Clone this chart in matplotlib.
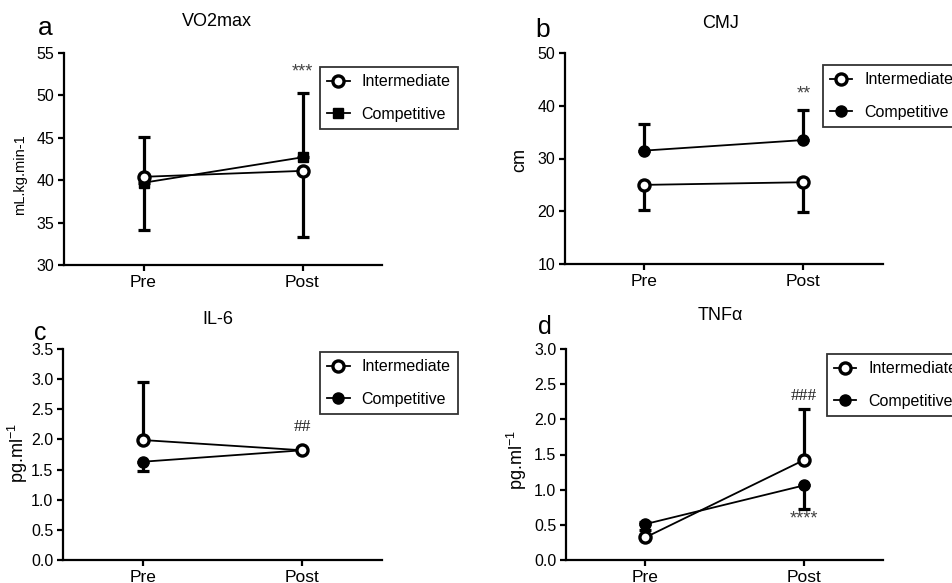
import matplotlib
matplotlib.use("Agg")
import matplotlib.pyplot as plt

plt.rcParams['font.family'] = ['Liberation Sans', 'DejaVu Sans']
plt.rcParams['mathtext.fontset'] = 'custom'
plt.rcParams['mathtext.rm'] = 'Liberation Sans'
plt.rcParams['mathtext.it'] = 'Liberation Sans:italic'

phases = ["Pre", "Post"]
group_names = ["Intermediate", "Competitive"]

# VO2max, mL.kg.min-1
vo2_inter = [40.4, 41.1]
vo2_inter_down = [6.3, 7.8]
vo2_inter_up = [0, 0]
vo2_comp = [39.7, 42.7]
vo2_comp_down = [0, 0]
vo2_comp_up = [5.4, 7.6]

# CMJ, cm
cmj_inter = [25.0, 25.5]
cmj_inter_down = [4.7, 5.6]
cmj_inter_up = [0, 0]
cmj_comp = [31.5, 33.5]
cmj_comp_down = [0, 0]
cmj_comp_up = [5.0, 5.7]

# IL-6, pg.ml-1
il6_inter = [1.99, 1.82]
il6_inter_down = [0, 0]
il6_inter_up = [0.97, 0]
il6_comp = [1.63, 1.82]
il6_comp_down = [0.15, 0]
il6_comp_up = [0, 0]

# TNFa, pg.ml-1
tnf_inter = [0.32, 1.42]
tnf_inter_down = [0, 0]
tnf_inter_up = [0.22, 0.72]
tnf_comp = [0.51, 1.06]
tnf_comp_down = [0.08, 0.34]
tnf_comp_up = [0, 0]


def DrawErrors(ax, values, down, up):
    for i in range(len(values)):
        if down[i] == 0 and up[i] == 0:
            continue
        ax.errorbar([i], [values[i]], yerr=[[down[i]], [up[i]]], fmt='none',
                    ecolor='black', elinewidth=2.3, capsize=4, capthick=2.3, zorder=2)


def DrawPanel(ax, inter, inter_down, inter_up, comp, comp_down, comp_up,
              comp_marker, ylim, yticks, tick_fmt):
    x = list(range(len(phases)))
    DrawErrors(ax, inter, inter_down, inter_up)
    DrawErrors(ax, comp, comp_down, comp_up)
    ax.plot(x, comp, color='black', lw=1.3, marker=comp_marker,
            ms=8 if comp_marker == 'o' else 7, mfc='black', mec='black',
            label=group_names[1], zorder=3)
    ax.plot(x, inter, color='black', lw=1.3, marker='o', ms=8, mfc='white',
            mec='black', mew=2.4, label=group_names[0], zorder=4)

    ax.set_xlim(-0.5, 1.5)
    ax.set_xticks(x)
    ax.set_xticklabels(phases, fontsize=12.5)
    ax.set_ylim(ylim)
    ax.set_yticks(yticks)
    ax.set_yticklabels([tick_fmt.format(t) for t in yticks], fontsize=11.5)
    for side in ['top', 'right']:
        ax.spines[side].set_visible(False)
    for side in ['left', 'bottom']:
        ax.spines[side].set_linewidth(1.6)
    ax.tick_params(axis='both', direction='out', length=4, width=1.6, pad=3)

    handles, labels = ax.get_legend_handles_labels()
    return [handles[1], handles[0]], [labels[1], labels[0]]


def AddLegend(ax, handles, labels, anchor):
    leg = ax.legend(handles, labels, loc='upper left', bbox_to_anchor=anchor,
                    fontsize=11.5, frameon=True, fancybox=False, handlelength=1.4,
                    handletextpad=0.75, labelspacing=1.1, borderpad=0.45,
                    borderaxespad=0)
    leg.get_frame().set_edgecolor('black')
    leg.get_frame().set_linewidth(1.3)
    leg.set_zorder(5)


def main():
    fig = plt.figure(figsize=(9.53, 5.83), dpi=100)
    W, H = 953.0, 583.0

    def Axes(left, right, top, bottom):
        return fig.add_axes([left / W, 1 - bottom / H, (right - left) / W, (bottom - top) / H])

    ax_a = Axes(64, 382, 53, 265)
    ax_b = Axes(565, 883, 53, 264)
    ax_c = Axes(63, 382, 349, 560)
    ax_d = Axes(566, 883, 349, 560)

    h, l = DrawPanel(ax_a, vo2_inter, vo2_inter_down, vo2_inter_up, vo2_comp,
                     vo2_comp_down, vo2_comp_up, 's', (30, 55), [30, 35, 40, 45, 50, 55], "{:.0f}")
    AddLegend(ax_a, h, l, (0.805, 0.934))
    ax_a.set_ylabel("mL.kg.min-1", fontsize=10.5)
    ax_a.yaxis.set_label_coords(-0.116, 0.425)
    ax_a.text(1, 52.8, "***", ha='center', va='center', fontsize=13, color='#444444')

    h, l = DrawPanel(ax_b, cmj_inter, cmj_inter_down, cmj_inter_up, cmj_comp,
                     cmj_comp_down, cmj_comp_up, 'o', (10, 50), [10, 20, 30, 40, 50], "{:.0f}")
    AddLegend(ax_b, h, l, (0.811, 0.943))
    ax_b.set_ylabel("cm", fontsize=13)
    ax_b.yaxis.set_label_coords(-0.116, 0.493)
    ax_b.text(1, 42.3, "**", ha='center', va='center', fontsize=13, color='#444444')

    h, l = DrawPanel(ax_c, il6_inter, il6_inter_down, il6_inter_up, il6_comp,
                     il6_comp_down, il6_comp_up, 'o', (0, 3.5),
                     [0, 0.5, 1.0, 1.5, 2.0, 2.5, 3.0, 3.5], "{:.1f}")
    AddLegend(ax_c, h, l, (0.806, 0.986))
    ax_c.set_ylabel("pg.ml$^{-1}$", fontsize=13)
    ax_c.yaxis.set_label_coords(-0.103, 0.507)
    ax_c.text(1, 2.21, "##", ha='center', va='center', fontsize=12.5, color='#222222',
              family=['Liberation Serif', 'DejaVu Serif'])

    h, l = DrawPanel(ax_d, tnf_inter, tnf_inter_down, tnf_inter_up, tnf_comp,
                     tnf_comp_down, tnf_comp_up, 'o', (0, 3.0),
                     [0, 0.5, 1.0, 1.5, 2.0, 2.5, 3.0], "{:.1f}")
    AddLegend(ax_d, h, l, (0.823, 0.976))
    ax_d.set_ylabel("pg.ml$^{-1}$", fontsize=13)
    ax_d.yaxis.set_label_coords(-0.117, 0.474)
    ax_d.text(1, 2.33, "###", ha='center', va='center', fontsize=12.5, color='#222222',
              family=['Liberation Serif', 'DejaVu Serif'])
    ax_d.text(1, 0.59, "****", ha='center', va='center', fontsize=13, color='#444444')

    # titles and panel letters
    fig.text(217 / W, 1 - 22 / H, "VO2max", ha='center', va='center', fontsize=13)
    fig.text(721 / W, 1 - 23 / H, "CMJ", ha='center', va='center', fontsize=13)
    fig.text(218 / W, 1 - 319 / H, "IL-6", ha='center', va='center', fontsize=13)
    fig.text(720 / W, 1 - 315 / H, "TNF\u03b1", ha='center', va='center', fontsize=13)
    fig.text(45 / W, 1 - 28 / H, "a", ha='center', va='center', fontsize=19)
    fig.text(543 / W, 1 - 30 / H, "b", ha='center', va='center', fontsize=19)
    fig.text(40 / W, 1 - 333 / H, "c", ha='center', va='center', fontsize=18)
    fig.text(545 / W, 1 - 327 / H, "d", ha='center', va='center', fontsize=18)

    fig.savefig("out.png", dpi=100)
    print("save : out.png")
    return 0


if __name__ == "__main__":
    main()
